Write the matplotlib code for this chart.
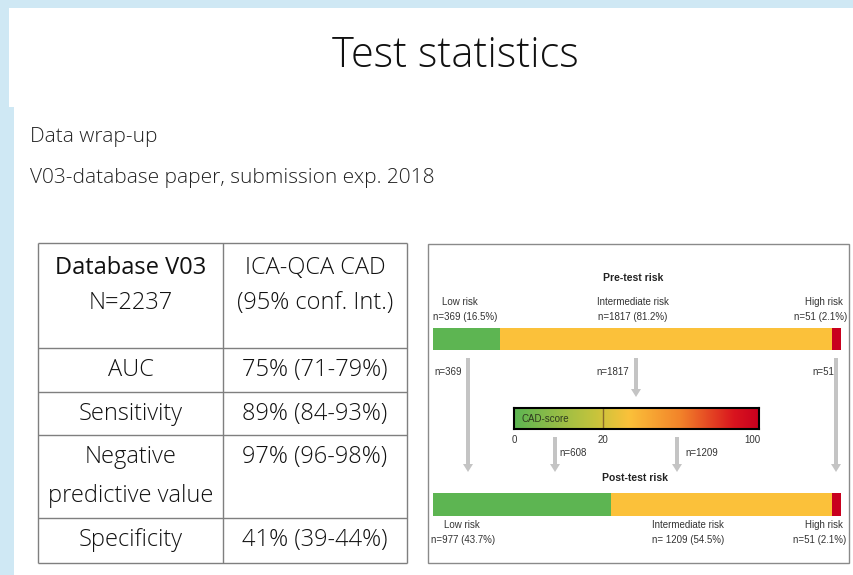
import numpy as np
import matplotlib.pyplot as plt
from matplotlib.colors import LinearSegmentedColormap
from matplotlib.patches import Rectangle

W, H = 854, 575

# table contents
header = ["Database V03\nN=2237", "ICA-QCA CAD\n(95% conf. Int.)"]
measures = ["AUC", "Sensitivity", "Negative\npredictive value", "Specificity"]
values = ["75% (71-79%)", "89% (84-93%)", "97% (96-98%)", "41% (39-44%)"]

# risk flow diagram
risk_names = ["Low risk", "Intermediate risk", "High risk"]
pre_counts = [369, 1817, 51]
pre_labels = ["n=369 (16.5%)", "n=1817 (81.2%)", "n=51 (2.1%)"]
post_counts = [977, 1209, 51]
post_labels = ["n=977 (43.7%)", "n= 1209 (54.5%)", "n=51 (2.1%)"]
cad_split = [608, 1209]
cad_ticks = ["0", "20", "100"]
cad_tick_pos = [0.0, 0.363, 0.975]

risk_colors = ["#5DB552", "#FBC13A", "#C8001E"]
blue = "#CFE8F4"
grid_c = "#7F7F7F"
arrow_c = "#C4C4C4"
light = ["Open Sans", "DejaVu Sans"]
narrow = ["Liberation Sans Narrow", "Liberation Sans", "DejaVu Sans"]

fig = plt.figure(figsize=(W / 100, H / 100), dpi=100)
fig.patch.set_facecolor("white")


def px_axes(x0, y0, x1, y1):
    return fig.add_axes([x0 / W, 1 - y1 / H, (x1 - x0) / W, (y1 - y0) / H])


ov = fig.add_axes([0, 0, 1, 1])
ov.set_xlim(0, W)
ov.set_ylim(H, 0)
ov.axis("off")

# slide frame
ov.add_patch(Rectangle((0, 0), W, 8, color=blue, lw=0))
ov.add_patch(Rectangle((0, 0), 9, 107, color=blue, lw=0))
ov.add_patch(Rectangle((0, 107), 14, H - 107, color=blue, lw=0))

ov.text(455, 56, "Test statistics", ha="center", va="center", fontsize=30,
        family=light, fontweight="light", color="#111111")
ov.text(30, 137, "Data wrap-up", ha="left", va="center", fontsize=15,
        family=light, fontweight="light", color="#222222")
ov.text(30, 178, "V03-database paper, submission exp. 2018", ha="left", va="center",
        fontsize=15, family=light, fontweight="light", color="#222222")

# table
tx = [38, 223, 407]
ty = [243, 348, 392, 435, 518, 563]
ov.hlines(ty, tx[0], tx[-1], color=grid_c, lw=1)
ov.vlines(tx, ty[0], ty[-1], color=grid_c, lw=1)
cx = [(tx[0] + tx[1]) / 2, (tx[1] + tx[2]) / 2]

for j, cell in enumerate(header):
    for k, line in enumerate(cell.split("\n")):
        ov.text(cx[j], 268 + 35 * k, line, ha="center", va="center", fontsize=17,
                family=light, fontweight="normal" if j == 0 and k == 0 else "light",
                color="#111111")

for i, (m, v) in enumerate(zip(measures, values)):
    lines = m.split("\n")
    mid = (ty[i + 1] + ty[i + 2]) / 2
    first = mid - 19.5 * (len(lines) - 1)
    for k, line in enumerate(lines):
        ov.text(cx[0], first + 39 * k, line, ha="center", va="center", fontsize=17,
                family=light, fontweight="light", color="#111111")
    ov.text(cx[1], first, v, ha="center", va="center", fontsize=17,
            family=light, fontweight="light", color="#111111")

# diagram panel
ov.add_patch(Rectangle((428, 244), 421, 319, fill=False, ec="#8A8A8A", lw=1))
small = dict(fontsize=7, family=narrow, color="#333333")

ov.text(633, 278, "Pre-test risk", ha="center", va="center", fontweight="bold",
        fontsize=7.5, family=narrow, color="#222222")
ov.text(635, 478, "Post-test risk", ha="center", va="center", fontweight="bold",
        fontsize=7.5, family=narrow, color="#222222")

pre_x = [(460, 465, "center"), (633, 633, "center"), (843, 847, "right")]
post_x = [(462, 463, "center"), (688, 688, "center"), (843, 846, "right")]
for name, lab, (x1, x2, al) in zip(risk_names, pre_labels, pre_x):
    ov.text(x1, 302, name, ha=al, va="center", **small)
    ov.text(x2, 317, lab, ha=al, va="center", **small)
for name, lab, (x1, x2, al) in zip(risk_names, post_labels, post_x):
    ov.text(x1, 525, name, ha=al, va="center", **small)
    ov.text(x2, 540, lab, ha=al, va="center", **small)


def risk_bar(box, counts):
    a = px_axes(*box)
    left = np.concatenate([[0], np.cumsum(counts)[:-1]])
    a.barh(0, counts, left=left, height=1, color=risk_colors, linewidth=0)
    a.set_xlim(0, sum(counts))
    a.set_ylim(-0.5, 0.5)
    a.axis("off")


risk_bar((433, 328, 841, 350), pre_counts)
risk_bar((433, 493, 841, 516), post_counts)

# arrows
arr = dict(width=4, head_width=10, head_length=8, length_includes_head=True,
           color=arrow_c, lw=0)
for x, y1 in zip([468, 636, 836], [472, 397, 472]):
    ov.arrow(x, 358, 0, y1 - 358, **arr)
for x in [555, 677]:
    ov.arrow(x, 437, 0, 472 - 437, **arr)

for c, x in zip(pre_counts, [448, 613, 823]):
    ov.text(x, 372, f"n={c}", ha="center", va="center", **small)
for c, x in zip(cad_split, [573, 702]):
    ov.text(x, 453, f"n={c}", ha="center", va="center", **small)

# CAD-score gradient bar
cad_cmap = LinearSegmentedColormap.from_list("cad", [
    (0.0, "#5DB552"), (0.33, "#C6C43C"), (0.47, "#FBC13A"),
    (0.68, "#F2832A"), (0.9, "#D9141E"), (1.0, "#C8001E")])
cad = px_axes(514, 408, 759, 429)
cad.imshow(np.linspace(0, 1, 256)[None, :], cmap=cad_cmap, aspect="auto",
           extent=(0, 1, 0, 1))
cad.axvline(cad_tick_pos[1], color="#8A6A2A", lw=1)
cad.set_xlim(0, 1)
cad.set_ylim(0, 1)
cad.set_yticks([])
cad.set_xticks(cad_tick_pos)
cad.set_xticklabels(cad_ticks, fontsize=7, family=narrow, color="#333333")
cad.tick_params(axis="x", length=0, pad=4)
for s in cad.spines.values():
    s.set_linewidth(1.5)
    s.set_color("black")
cad.text(0.03, 0.5, "CAD-score", ha="left", va="center", fontsize=7,
         family=narrow, color="#2F3A1F", transform=cad.transAxes)

fig.savefig("out.png", dpi=100)
